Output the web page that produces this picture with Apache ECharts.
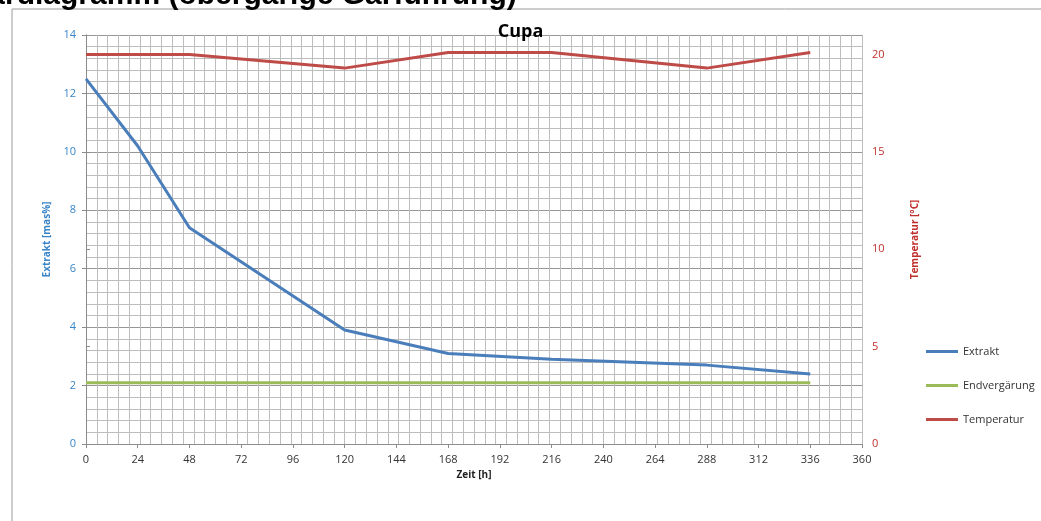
<!DOCTYPE html>
<html>
<head>
<meta charset="utf-8">
<title>Cupa</title>
<script src="https://cdn.jsdelivr.net/npm/echarts@6/dist/echarts.min.js"></script>
<style>
  html, body { margin: 0; padding: 0; background: #fff; }
  #chart { width: 1041px; height: 521px; }
</style>
</head>
<body>
<div id="chart"></div>
<script>
// Zeitpunkte [h]
var hours = [0, 24, 48, 120, 168, 216, 288, 336];
// Extrakt [mas%]
var extrakt = [12.5, 10.2, 7.4, 3.9, 3.1, 2.9, 2.7, 2.4];
// Endvergärung [mas%]
var endvergaerung = [2.1, 2.1, 2.1, 2.1, 2.1, 2.1, 2.1, 2.1];
// Temperatur [°C]
var temperatur = [20, 20, 20, 19.3, 20.1, 20.1, 19.3, 20.1];

var pairs = function (xs, ys) {
  return xs.map(function (x, i) { return [x, ys[i]]; });
};

var labelFont = 'Open Sans';
var nameFont = 'Open Sans';
var axisGrey = '#8c8c8c';

var chart = echarts.init(document.getElementById('chart'));

var option = {
  animation: false,
  backgroundColor: '#fff',
  title: {
    text: 'Cupa',
    left: 'center',
    top: 18,
    textStyle: { fontFamily: 'Open Sans', fontWeight: 'bold', fontSize: 18, color: '#000' }
  },
  graphic: [
    {
      type: 'rect',
      shape: { x: 12, y: 9, width: 1100, height: 600 },
      style: { fill: 'none', stroke: '#9a9a9a', lineWidth: 1 },
      silent: true
    },
    {
      type: 'text',
      left: -35,
      top: -19,
      style: {
        text: 'Gärdiagramm (obergärige Gärführung)',
        font: 'bold 30px "Liberation Sans", Arial, sans-serif',
        fill: '#000'
      },
      silent: true
    }
  ],
  legend: {
    orient: 'vertical',
    left: 926,
    top: 346,
    padding: 0,
    itemGap: 23,
    itemWidth: 32,
    itemHeight: 3,
    icon: 'rect',
    textStyle: { fontFamily: labelFont, fontSize: 11, color: '#333' },
    data: ['Extrakt', 'Endvergärung', 'Temperatur']
  },
  grid: { left: 86, right: 179, top: 35, bottom: 77 },
  xAxis: [
    {
      type: 'value',
      min: 0,
      max: 360,
      interval: 24,
      name: 'Zeit [h]',
      nameLocation: 'middle',
      nameGap: 26,
      nameTextStyle: { fontFamily: nameFont, fontWeight: 'bold', fontSize: 10, color: '#222' },
      axisLine: { lineStyle: { color: axisGrey } },
      axisTick: { show: true, length: 4, lineStyle: { color: axisGrey } },
      axisLabel: { fontFamily: labelFont, fontSize: 11, color: '#333', margin: 10 },
      splitLine: { show: false }
    },
    {
      // Hilfsachse nur für das 5h-Raster
      type: 'value',
      min: 0,
      max: 360,
      interval: 5,
      position: 'bottom',
      axisLine: { show: false },
      axisTick: { show: false },
      axisLabel: { show: false },
      splitLine: { show: true, lineStyle: { color: '#bdbdbd', width: 1 } }
    }
  ],
  yAxis: [
    {
      type: 'value',
      min: 0,
      max: 14,
      interval: 2,
      name: 'Extrakt [mas%]',
      nameLocation: 'middle',
      nameGap: 32,
      nameTextStyle: { fontFamily: nameFont, fontWeight: 'bold', fontSize: 10, color: '#3a86c8' },
      axisLine: { show: true, lineStyle: { color: axisGrey } },
      axisTick: { show: true, length: 4, lineStyle: { color: axisGrey } },
      axisLabel: { fontFamily: labelFont, fontSize: 11, color: '#3a86c8', margin: 10 },
      minorTick: { show: false, splitNumber: 5 },
      minorSplitLine: { show: true, lineStyle: { color: '#bdbdbd', width: 1 } },
      splitLine: { show: true, lineStyle: { color: '#969696', width: 1 } }
    },
    {
      type: 'value',
      min: 0,
      max: 21,
      interval: 5,
      position: 'right',
      alignTicks: false,
      name: 'Temperatur [°C]',
      nameLocation: 'middle',
      nameGap: 48,
      nameTextStyle: { fontFamily: nameFont, fontWeight: 'bold', fontSize: 10, color: '#c0302c' },
      axisLine: { show: true, lineStyle: { color: axisGrey } },
      axisTick: { show: true, length: 4, lineStyle: { color: axisGrey } },
      axisLabel: { fontFamily: labelFont, fontSize: 11, color: '#c0302c', margin: 10, showMaxLabel: false },
      splitLine: { show: false }
    }
  ],
  series: [
    {
      name: 'Extrakt',
      type: 'line',
      xAxisIndex: 0,
      yAxisIndex: 0,
      symbol: 'none',
      color: '#4a7ebb',
      lineStyle: { width: 3 },
      data: pairs(hours, extrakt)
    },
    {
      name: 'Endvergärung',
      type: 'line',
      xAxisIndex: 0,
      yAxisIndex: 0,
      symbol: 'none',
      color: '#9bbb59',
      lineStyle: { width: 3 },
      data: pairs(hours, endvergaerung)
    },
    {
      name: 'Temperatur',
      type: 'line',
      xAxisIndex: 0,
      yAxisIndex: 1,
      symbol: 'none',
      color: '#be4b48',
      lineStyle: { width: 3 },
      data: pairs(hours, temperatur)
    }
  ]
};

chart.setOption(option);
</script>
</body>
</html>
